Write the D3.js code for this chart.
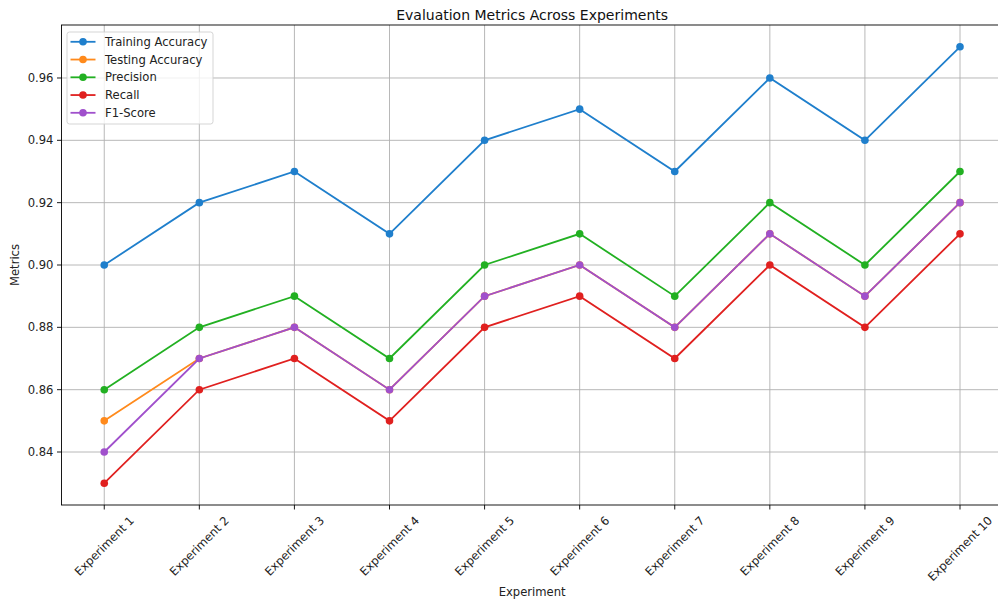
<!DOCTYPE html>
<html><head><meta charset="utf-8">
<script src="https://cdn.jsdelivr.net/npm/d3@7"></script>
<style>html,body{margin:0;padding:0;background:#fff;overflow:hidden}svg{display:block;font-family:"DejaVu Sans",sans-serif}</style>
</head><body>
<svg id="c" width="998" height="604"></svg>
<script>
const experiments = ["Experiment 1","Experiment 2","Experiment 3","Experiment 4","Experiment 5","Experiment 6","Experiment 7","Experiment 8","Experiment 9","Experiment 10"];
const trainingAccuracy = [0.90,0.92,0.93,0.91,0.94,0.95,0.93,0.96,0.94,0.97];
const testingAccuracy  = [0.85,0.87,0.88,0.86,0.89,0.90,0.88,0.91,0.89,0.92];
const precision        = [0.86,0.88,0.89,0.87,0.90,0.91,0.89,0.92,0.90,0.93];
const recall           = [0.83,0.86,0.87,0.85,0.88,0.89,0.87,0.90,0.88,0.91];
const f1Score          = [0.84,0.87,0.88,0.86,0.89,0.90,0.88,0.91,0.89,0.92];
const seriesNames = ["Training Accuracy","Testing Accuracy","Precision","Recall","F1-Score"];
const yTicks = [0.84,0.86,0.88,0.90,0.92,0.94,0.96];

const colors = ["#1f7fcc","#ff8a1c","#22b022","#e0201f","#a050cc"];
const series = [trainingAccuracy,testingAccuracy,precision,recall,f1Score].map((v,i)=>({name:seriesNames[i],values:v,color:colors[i]}));

const svg = d3.select("#c");
const L=61.5, R=1002.75, T=25, B=505;
const x = d3.scalePoint().domain(experiments).range([L+42.75, R-42.75]);
const y = d3.scaleLinear().domain([0.823,0.977]).range([B,T]);
const FS = 11.6;

// grid
const g = svg.append("g");
g.selectAll(".vg").data(experiments).enter().append("line")
 .attr("x1",d=>x(d)).attr("x2",d=>x(d)).attr("y1",T).attr("y2",B)
 .attr("stroke","#b0b0b0").attr("stroke-width",0.9);
g.selectAll(".hg").data(yTicks).enter().append("line")
 .attr("x1",L).attr("x2",R).attr("y1",d=>y(d)).attr("y2",d=>y(d))
 .attr("stroke","#b0b0b0").attr("stroke-width",0.9);

// lines
const line = d3.line().x((d,i)=>x(experiments[i])).y(d=>y(d));
series.forEach(s=>{
  const sg = svg.append("g");
  sg.append("path").attr("d",line(s.values)).attr("fill","none").attr("stroke",s.color).attr("stroke-width",1.8);
  sg.selectAll("circle").data(s.values).enter().append("circle")
    .attr("cx",(d,i)=>x(experiments[i])).attr("cy",d=>y(d)).attr("r",3.8).attr("fill",s.color);
});

// spines
svg.append("rect").attr("x",L).attr("y",T).attr("width",R-L).attr("height",B-T)
  .attr("fill","none").attr("stroke","#000").attr("stroke-width",0.9);

// y axis
const ya = svg.append("g");
yTicks.forEach(t=>{
  ya.append("line").attr("x1",L-4.5).attr("x2",L).attr("y1",y(t)).attr("y2",y(t)).attr("stroke","#000").attr("stroke-width",0.9);
  ya.append("text").attr("x",L-8).attr("y",y(t)).attr("dy","0.35em").attr("text-anchor","end")
    .attr("font-size",FS).attr("fill","#222").text(d3.format(".2f")(t));
});
// x axis
const xa = svg.append("g");
experiments.forEach(e=>{
  xa.append("line").attr("x1",x(e)).attr("x2",x(e)).attr("y1",B).attr("y2",B+4.5).attr("stroke","#000").attr("stroke-width",0.9);
  const t = xa.append("text").attr("font-size",FS).attr("fill","#222").attr("text-anchor","middle").attr("dy","0.35em").text(e);
  const w = t.node().getComputedTextLength(), h = 12.5;
  const bb = (w+h)*Math.SQRT1_2;
  t.attr("transform",`translate(${x(e)},${B+9+bb/2}) rotate(-45)`);
});

// labels
svg.append("text").attr("x",(L+R)/2).attr("y",596).attr("text-anchor","middle").attr("font-size",FS).attr("fill","#222").text("Experiment");
svg.append("text").attr("transform",`translate(19,${(T+B)/2}) rotate(-90)`).attr("text-anchor","middle").attr("font-size",FS).attr("fill","#222").text("Metrics");
svg.append("text").attr("x",(L+R)/2).attr("y",19.5).attr("text-anchor","middle").attr("font-size",14).attr("fill","#111").text("Evaluation Metrics Across Experiments");

// legend
const lg = svg.append("g");
lg.append("rect").attr("x",67).attr("y",32).attr("width",146).attr("height",92).attr("rx",2.5)
  .attr("fill","#fff").attr("fill-opacity",0.8).attr("stroke","#d0d0d0").attr("stroke-width",0.9);
series.forEach((s,i)=>{
  const yy = 41.8 + i*17.75;
  lg.append("line").attr("x1",70.5).attr("x2",95.5).attr("y1",yy).attr("y2",yy).attr("stroke",s.color).attr("stroke-width",1.8);
  lg.append("circle").attr("cx",83).attr("cy",yy).attr("r",3.8).attr("fill",s.color);
  lg.append("text").attr("x",105).attr("y",yy).attr("dy","0.35em").attr("font-size",FS).attr("fill","#222").text(s.name);
});
</script>
</body></html>
